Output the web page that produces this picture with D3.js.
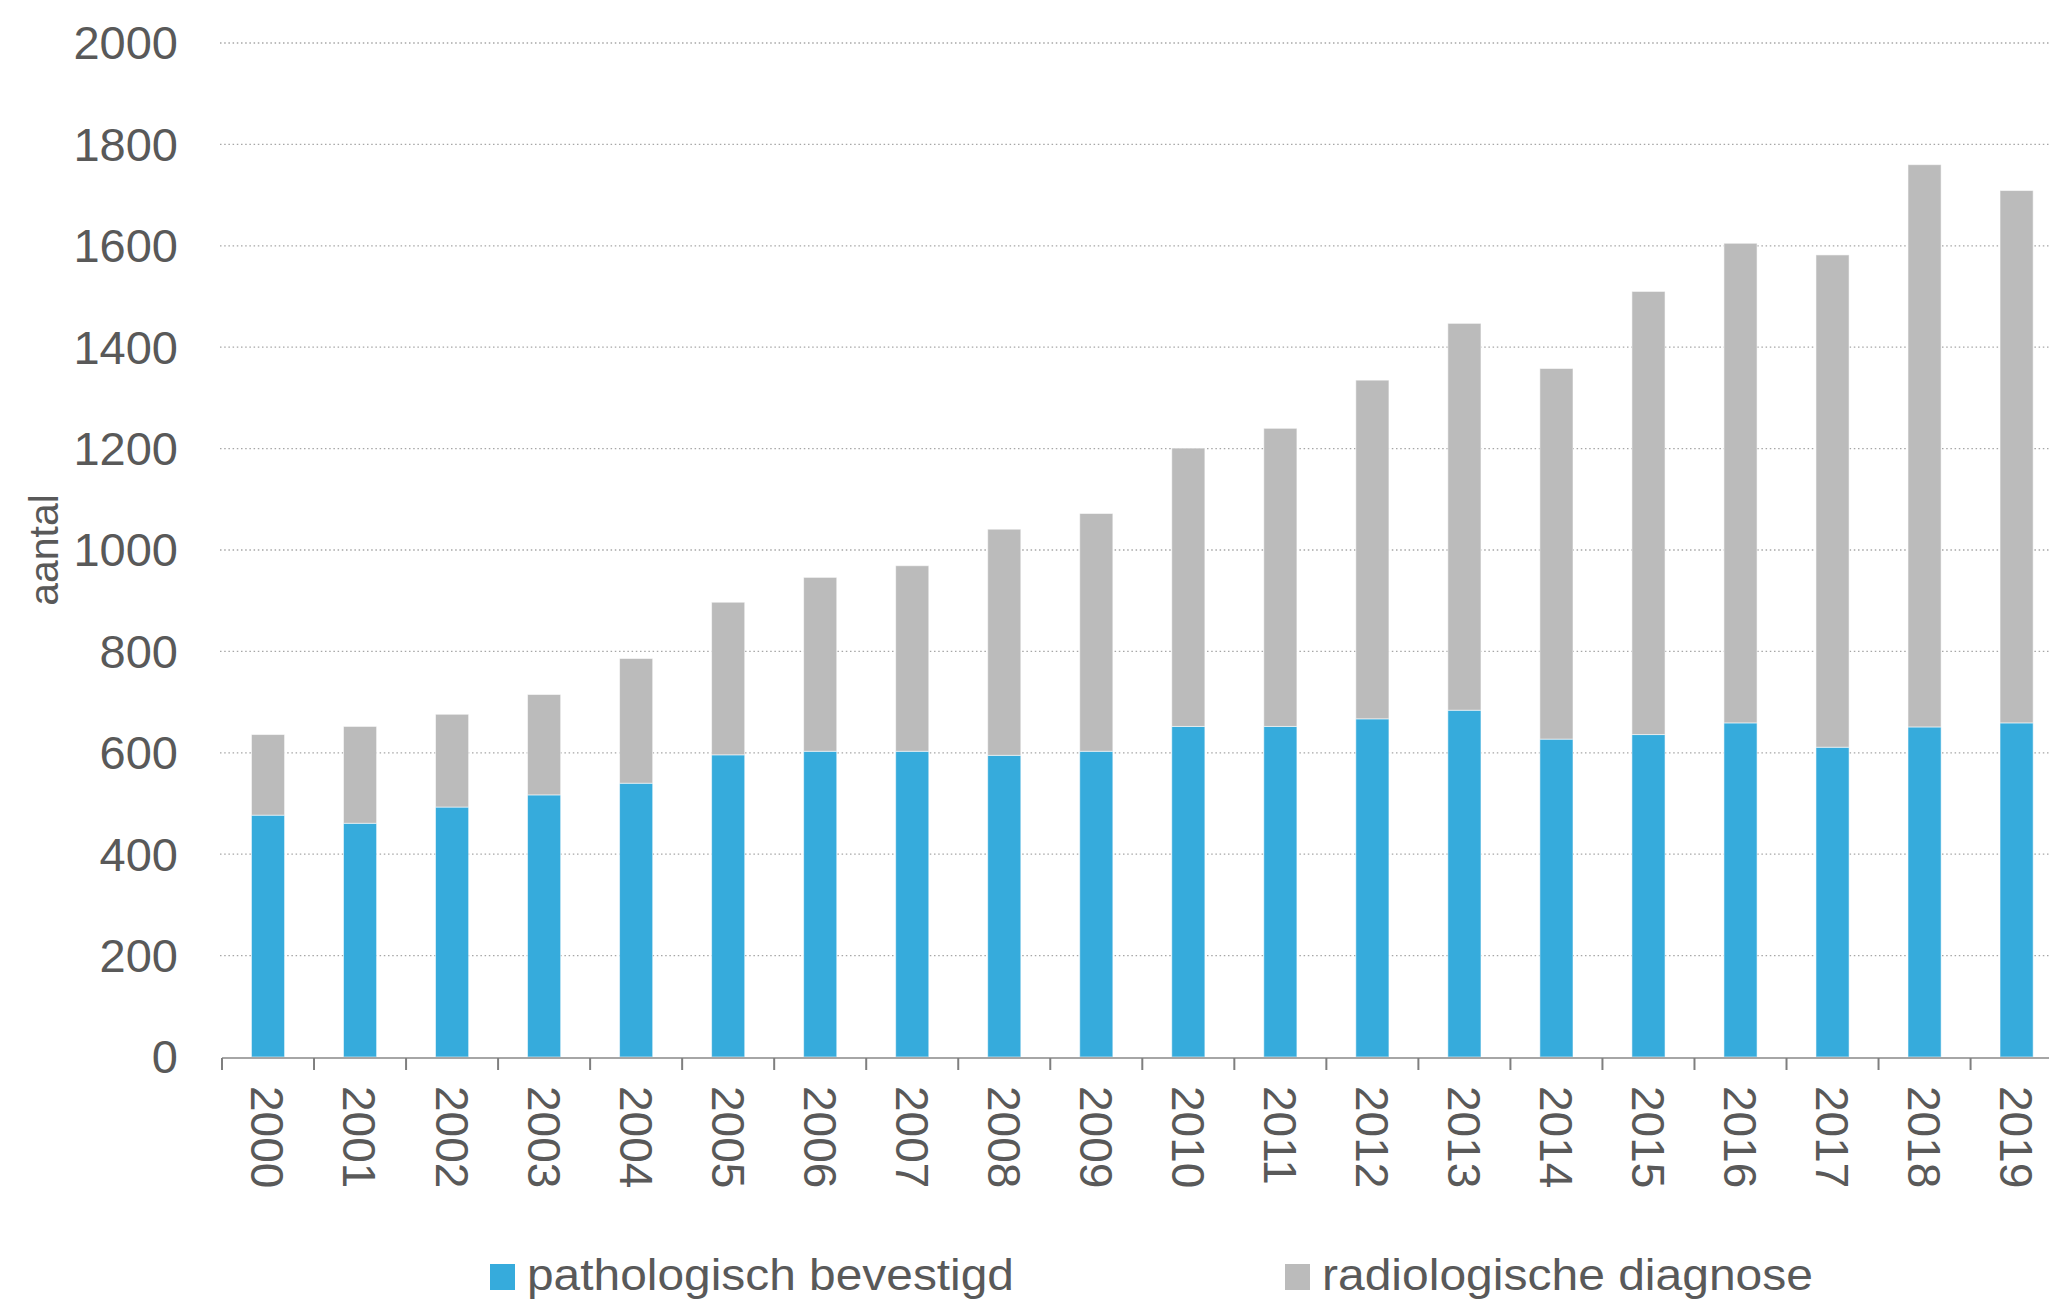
<!DOCTYPE html>
<html>
<head>
<meta charset="utf-8">
<script src="https://cdn.jsdelivr.net/npm/d3@7"></script>
<style>
  html, body { margin: 0; padding: 0; background: #fff; }
  svg { display: block; }
  text { font-family: "Liberation Sans", Arial, sans-serif; fill: #595959; }
</style>
</head>
<body>
<svg id="chart" width="2049" height="1301"></svg>
<script>
const years = ["2000","2001","2002","2003","2004","2005","2006","2007","2008","2009",
               "2010","2011","2012","2013","2014","2015","2016","2017","2018","2019"];
const pathologisch = [477, 461, 493, 517, 540, 596, 603, 603, 595, 603,
                      652, 652, 667, 684, 627, 636, 659, 611, 651, 659];
const radiologisch = [159, 191, 183, 198, 246, 301, 343, 366, 446, 469,
                      549, 588, 668, 763, 731, 874, 946, 971, 1109, 1050];
const yTicks = [0, 200, 400, 600, 800, 1000, 1200, 1400, 1600, 1800, 2000];
const seriesNames = ["pathologisch bevestigd", "radiologische diagnose"];
const seriesKeys = ["patho", "radio"];
const colors = ["#36ABDC", "#BBBBBB"];
const yLabel = "aantal";

const rows = years.map((y, i) => ({ year: y, patho: pathologisch[i], radio: radiologisch[i] }));

const svg = d3.select("#chart");

const x = d3.scaleBand().domain(years).range([222, 2062.6])
  .paddingInner(0.64).paddingOuter(0.32);
const y = d3.scaleLinear().domain([0, 2000]).range([1057, 43]);

// gridlines
svg.append("g").selectAll("line").data(yTicks.filter(d => d > 0)).join("line")
  .attr("x1", 220).attr("x2", 2049)
  .attr("y1", d => y(d)).attr("y2", d => y(d))
  .attr("stroke", "#A6A6A6").attr("stroke-width", 1.3)
  .attr("stroke-dasharray", "1.5,2.7");

// y tick labels
svg.append("g").selectAll("text").data(yTicks).join("text")
  .attr("x", 178).attr("y", d => y(d)).attr("dy", "0.35em")
  .attr("text-anchor", "end").style("font-size", "47px")
  .text(d => d);

// bars
const stack = d3.stack().keys(seriesKeys)(rows);
svg.append("g").selectAll("g").data(stack).join("g")
  .attr("fill", (d, i) => colors[i])
  .selectAll("rect").data(d => d).join("rect")
  .attr("x", d => x(d.data.year))
  .attr("width", x.bandwidth())
  .attr("y", d => y(d[1]))
  .attr("height", d => y(d[0]) - y(d[1]))
  .attr("stroke", "rgba(255,255,255,0.55)").attr("stroke-width", 1);

// x axis line
const step = x.step();
const x0 = x(years[0]) - step * x.paddingOuter();
svg.append("line").attr("x1", x0).attr("x2", 2049)
  .attr("y1", y(0) + 1).attr("y2", y(0) + 1)
  .attr("stroke", "#A6A6A6").attr("stroke-width", 2);
// ticks at band boundaries
svg.append("g").selectAll("line").data(years).join("line")
  .attr("x1", d => x(d) - step * x.paddingOuter())
  .attr("x2", d => x(d) - step * x.paddingOuter())
  .attr("y1", y(0) + 1).attr("y2", y(0) + 13)
  .attr("stroke", "#7F7F7F").attr("stroke-width", 2);

// x labels rotated
svg.append("g").selectAll("text").data(years).join("text")
  .attr("transform", d => `translate(${x(d) + x.bandwidth() / 2},1086) rotate(90)`)
  .attr("dy", "0.36em").attr("text-anchor", "start")
  .style("font-size", "46px")
  .text(d => d);

// y label
svg.append("text")
  .attr("transform", "translate(44,550) rotate(-90)")
  .attr("dy", "0.35em").attr("text-anchor", "middle")
  .style("font-size", "41px")
  .text(yLabel);

// legend
const legendX = [490, 1285];
const legendW = [487, 491];
const lg = svg.append("g").selectAll("g").data(seriesNames).join("g");
lg.append("rect")
  .attr("x", (d, i) => legendX[i]).attr("y", 1264)
  .attr("width", 25).attr("height", 26)
  .attr("fill", (d, i) => colors[i]);
lg.append("text")
  .attr("x", (d, i) => legendX[i] + 37).attr("y", 1290)
  .style("font-size", "45px")
  .attr("textLength", (d, i) => legendW[i]).attr("lengthAdjust", "spacingAndGlyphs")
  .text(d => d);
</script>
</body>
</html>
